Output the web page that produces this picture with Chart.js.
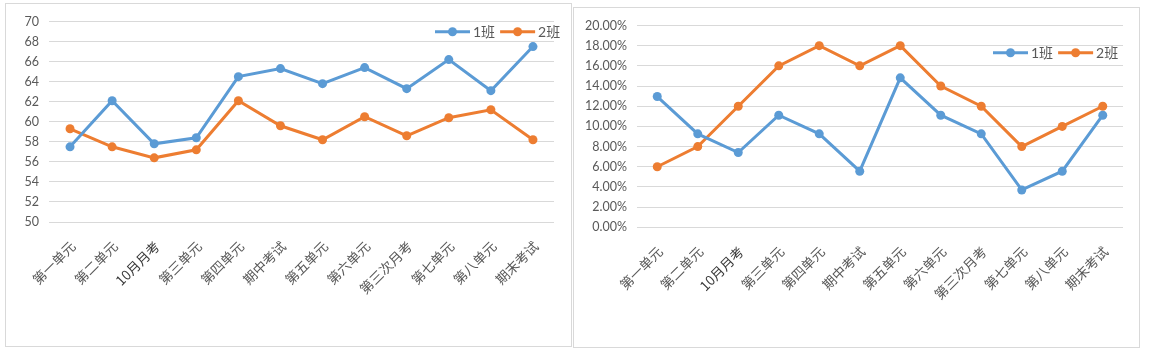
<!DOCTYPE html>
<html>
<head>
<meta charset="utf-8">
<script src="https://cdn.jsdelivr.net/npm/chart.js@4.4.0/dist/chart.umd.min.js"></script>
<style>
  html, body { margin: 0; padding: 0; background: #fff; }
  body { width: 1150px; height: 355px; position: relative; overflow: hidden; }
  .box { position: absolute; box-sizing: border-box; border: 1px solid #D9D9D9; background: #fff; }
  #b1 { left: 5px; top: 3px; width: 567px; height: 344px; }
  #b2 { left: 573px; top: 7px; width: 567px; height: 341px; }
  .box canvas { display: block; }
</style>
</head>
<body>
<div class="box" id="b1"><canvas id="c1" width="565" height="342"></canvas></div>
<div class="box" id="b2"><canvas id="c2" width="565" height="339"></canvas></div>
<script>
const categories = ['第一单元','第二单元','10月月考','第三单元','第四单元','期中考试','第五单元','第六单元','第三次月考','第七单元','第八单元','期末考试'];
const seriesNames = ['1班','2班'];
// Left chart: average scores
const scoreClass1 = [57.5, 62.1, 57.8, 58.4, 64.5, 65.3, 63.8, 65.4, 63.3, 66.2, 63.1, 67.5];
const scoreClass2 = [59.3, 57.5, 56.4, 57.2, 62.1, 59.6, 58.2, 60.5, 58.6, 60.4, 61.2, 58.2];
const scoreTicks = [50, 52, 54, 56, 58, 60, 62, 64, 66, 68, 70];
// Right chart: percentages
const rateClass1 = [12.96, 9.26, 7.41, 11.11, 9.26, 5.56, 14.81, 11.11, 9.26, 3.70, 5.56, 11.11];
const rateClass2 = [6.00, 8.00, 12.00, 16.00, 18.00, 16.00, 18.00, 14.00, 12.00, 8.00, 10.00, 12.00];
const rateTicks = [0, 2, 4, 6, 8, 10, 12, 14, 16, 18, 20];

const BLUE = '#5B9BD5', ORANGE = '#ED7D31', TXT = '#595959', GRID = '#D9D9D9';
const numFont = { family: 'Lato, "Liberation Sans", sans-serif', size: 12.5 };
const cjkFont = { family: '"Noto Sans CJK SC", sans-serif', size: 13.5 };

const excelLegend = {
  id: 'excelLegend',
  afterDraw(chart, args, opts) {
    const ctx = chart.ctx;
    let x = opts.x; const y = opts.y;
    ctx.save();
    ctx.font = '14px Lato, "Noto Sans CJK SC", sans-serif';
    ctx.textBaseline = 'middle';
    ctx.textAlign = 'left';
    chart.data.datasets.forEach(ds => {
      ctx.strokeStyle = ds.borderColor;
      ctx.lineWidth = 3;
      ctx.beginPath(); ctx.moveTo(x, y); ctx.lineTo(x + 35, y); ctx.stroke();
      ctx.fillStyle = ds.borderColor;
      ctx.beginPath(); ctx.arc(x + 17.5, y, 4.5, 0, Math.PI * 2); ctx.fill();
      x += 38;
      ctx.fillStyle = TXT;
      ctx.fillText(ds.label, x, y + 0.5);
      x += ctx.measureText(ds.label).width + 5;
    });
    ctx.restore();
  }
};

function makeDataset(label, data, color) {
  return {
    label, data,
    borderColor: color, backgroundColor: color,
    pointBackgroundColor: color, pointBorderColor: color,
    borderWidth: 3, pointRadius: 4.5, pointBorderWidth: 0, pointHoverRadius: 4.5,
    tension: 0, fill: false
  };
}

function makeChart(id, d1, d2, yTicks, fmt, cfg) {
  return new Chart(document.getElementById(id), {
    type: 'line',
    data: {
      labels: categories,
      datasets: [makeDataset(seriesNames[0], d1, BLUE), makeDataset(seriesNames[1], d2, ORANGE)]
    },
    options: {
      responsive: false,
      animation: false,
      layout: { padding: { left: 0, right: cfg.padRight, top: cfg.padTop, bottom: 0 } },
      plugins: {
        legend: { display: false },
        tooltip: { enabled: false },
        excelLegend: { x: cfg.legX, y: cfg.legY }
      },
      scales: {
        x: {
          offset: true,
          grid: { display: false, drawTicks: false },
          border: { display: false },
          ticks: {
            autoSkip: false, minRotation: 45, maxRotation: 45,
            padding: 16, labelOffset: 3,
            font: cjkFont,
            color: (c) => c.index === 2 ? '#3a3a3a' : TXT
          },
          afterFit: (s) => { s.height = cfg.xHeight; }
        },
        y: {
          min: yTicks[0], max: yTicks[yTicks.length - 1],
          afterBuildTicks: (s) => { s.ticks = yTicks.map(v => ({ value: v })); },
          grid: { color: GRID, lineWidth: 1, drawTicks: false },
          border: { display: false },
          ticks: { padding: 10, font: numFont, color: TXT, callback: fmt },
          afterFit: (s) => { s.width = cfg.yWidth; }
        }
      }
    },
    plugins: [excelLegend]
  });
}

makeChart('c1', scoreClass1, scoreClass2, scoreTicks, (v) => String(v),
  { padRight: 17, padTop: 16, xHeight: 124, yWidth: 43, legX: 429, legY: 27.7 });
makeChart('c2', rateClass1, rateClass2, rateTicks, (v) => Number(v).toFixed(2) + '%',
  { padRight: 16, padTop: 17, xHeight: 119.7, yWidth: 63, legX: 419, legY: 44.7 });
</script>
</body>
</html>
